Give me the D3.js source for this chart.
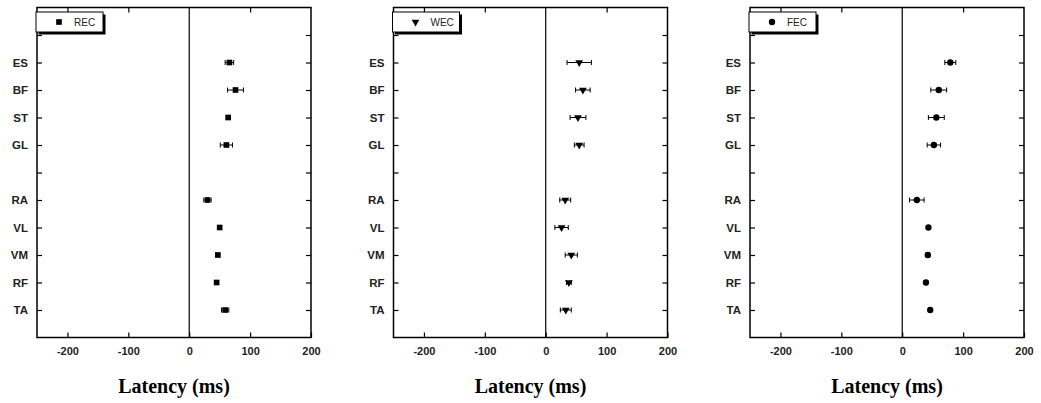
<!DOCTYPE html>
<html>
<head>
<meta charset="utf-8">
<script src="https://cdn.jsdelivr.net/npm/d3@7"></script>
<style>
  body { margin: 0; background: #fff; }
  svg { display: block; }
</style>
</head>
<body>
<svg id="chart" width="1041" height="403"></svg>
<script>
// muscles, in the order they appear from top to bottom (null = empty slot)
const muscles = [null, "ES", "BF", "ST", "GL", null, "RA", "VL", "VM", "RF", "TA"];
const conditions = ["REC", "WEC", "FEC"];
const xTicks = [-200, -100, 0, 100, 200];

// latency means and error (ms), per condition, same order as muscles without gaps
const recMean = [66, 76, 64, 61, 30, 50, 47, 45, 59];
const recErr  = [7, 13, 3, 10, 6, 2, 3, 2, 6];
const wecMean = [55, 61, 53, 55, 32, 26, 42, 38, 33];
const wecErr  = [20, 12, 13, 8, 9, 11, 10, 4, 9];
const fecMean = [79, 60, 56, 52, 24, 43, 42, 39, 46];
const fecErr  = [9, 13, 13, 11, 12, 2, 3, 2, 2];

const means = [recMean, wecMean, fecMean];
const errs = [recErr, wecErr, fecErr];
const symbols = [d3.symbolSquare, d3.symbolTriangle, d3.symbolCircle];

const names = muscles.filter(d => d);

const svg = d3.select("#chart");
const panelLeft = [37, 393.5, 750];
const pw = 274, panelTop = 7.5, ph = 330;

conditions.forEach(function (cond, p) {
  const g = svg.append("g").attr("transform", `translate(${panelLeft[p]}, ${panelTop})`);

  const x = d3.scaleLinear().domain([-250, 200]).range([0, pw]);
  const y = d3.scaleLinear().domain([0, muscles.length + 1]).range([0, ph]);
  const yPos = name => y(muscles.indexOf(name) + 1);

  // frame
  g.append("rect")
    .attr("width", pw).attr("height", ph)
    .attr("fill", "none").attr("stroke", "#000").attr("stroke-width", 1.5);

  // zero line
  g.append("line")
    .attr("x1", x(0)).attr("x2", x(0)).attr("y1", 0).attr("y2", ph)
    .attr("stroke", "#000").attr("stroke-width", 1.2);

  // bottom axis (inside ticks), plain hyphen for negatives
  const xb = g.append("g").attr("transform", `translate(0, ${ph})`)
    .call(d3.axisBottom(x).tickValues(xTicks).tickSizeInner(-5).tickSizeOuter(0).tickPadding(10)
      .tickFormat(d => String(d)));
  xb.select(".domain").remove();
  xb.selectAll("line").attr("stroke-width", 1.2);
  xb.selectAll("text")
    .attr("font-family", "Arial, 'Liberation Sans', sans-serif")
    .attr("font-size", 11).attr("font-weight", "bold").attr("fill", "#222");

  // top axis ticks
  const xt = g.append("g")
    .call(d3.axisTop(x).tickValues([-200, -100, 100]).tickSizeInner(-5).tickSizeOuter(0).tickFormat(""));
  xt.select(".domain").remove();
  xt.selectAll("line").attr("stroke-width", 1.2);

  // left axis
  const tickVals = d3.range(1, muscles.length + 1);
  const yl = g.append("g")
    .call(d3.axisLeft(y).tickValues(tickVals).tickSizeInner(-5).tickSizeOuter(0).tickPadding(9)
      .tickFormat(i => muscles[i - 1] || ""));
  yl.select(".domain").remove();
  yl.selectAll("line").attr("stroke-width", 1.2);
  yl.selectAll("text")
    .attr("font-family", "Arial, 'Liberation Sans', sans-serif")
    .attr("font-size", 11.5).attr("font-weight", "bold").attr("fill", "#222");

  // right axis
  const yr = g.append("g").attr("transform", `translate(${pw}, 0)`)
    .call(d3.axisRight(y).tickValues(tickVals).tickSizeInner(-5).tickSizeOuter(0).tickFormat(""));
  yr.select(".domain").remove();
  yr.selectAll("line").attr("stroke-width", 1.2);

  // data
  const data = names.map((n, i) => ({ name: n, mean: means[p][i], err: errs[p][i] }));
  const pts = g.append("g").selectAll("g").data(data).join("g");

  pts.append("line")
    .attr("x1", d => x(d.mean - d.err)).attr("x2", d => x(d.mean + d.err))
    .attr("y1", d => yPos(d.name)).attr("y2", d => yPos(d.name))
    .attr("stroke", "#000").attr("stroke-width", 1);
  pts.append("line")
    .attr("x1", d => x(d.mean - d.err)).attr("x2", d => x(d.mean - d.err))
    .attr("y1", d => yPos(d.name) - 2.5).attr("y2", d => yPos(d.name) + 2.5)
    .attr("stroke", "#000").attr("stroke-width", 1);
  pts.append("line")
    .attr("x1", d => x(d.mean + d.err)).attr("x2", d => x(d.mean + d.err))
    .attr("y1", d => yPos(d.name) - 2.5).attr("y2", d => yPos(d.name) + 2.5)
    .attr("stroke", "#000").attr("stroke-width", 1);

  const sym = d3.symbol().type(symbols[p]).size(p === 1 ? 26 : 32);
  const rot = p === 1 ? " rotate(180)" : "";
  pts.append("path")
    .attr("d", sym())
    .attr("transform", d => `translate(${x(d.mean)}, ${yPos(d.name)})${rot}`)
    .attr("fill", "#000");

  // legend with drop shadow
  const lg = g.append("g").attr("transform", "translate(-1, 4.5)");
  lg.append("rect").attr("x", 2.5).attr("y", 2.5).attr("width", 67).attr("height", 20).attr("fill", "#000");
  lg.append("rect").attr("width", 67).attr("height", 20)
    .attr("fill", "#fff").attr("stroke", "#000").attr("stroke-width", 1);
  lg.append("path")
    .attr("d", sym())
    .attr("transform", `translate(23, 10)${rot}`)
    .attr("fill", "#000");
  lg.append("text")
    .attr("x", 38).attr("y", 14)
    .attr("font-family", "Arial, 'Liberation Sans', sans-serif")
    .attr("font-size", 10).attr("fill", "#222")
    .text(cond);

  // x title
  g.append("text")
    .attr("x", pw / 2).attr("y", ph + 55)
    .attr("text-anchor", "middle")
    .attr("font-family", "'Times New Roman', 'Liberation Serif', serif")
    .attr("font-size", 20).attr("font-weight", "bold")
    .text("Latency (ms)");
});
</script>
</body>
</html>
